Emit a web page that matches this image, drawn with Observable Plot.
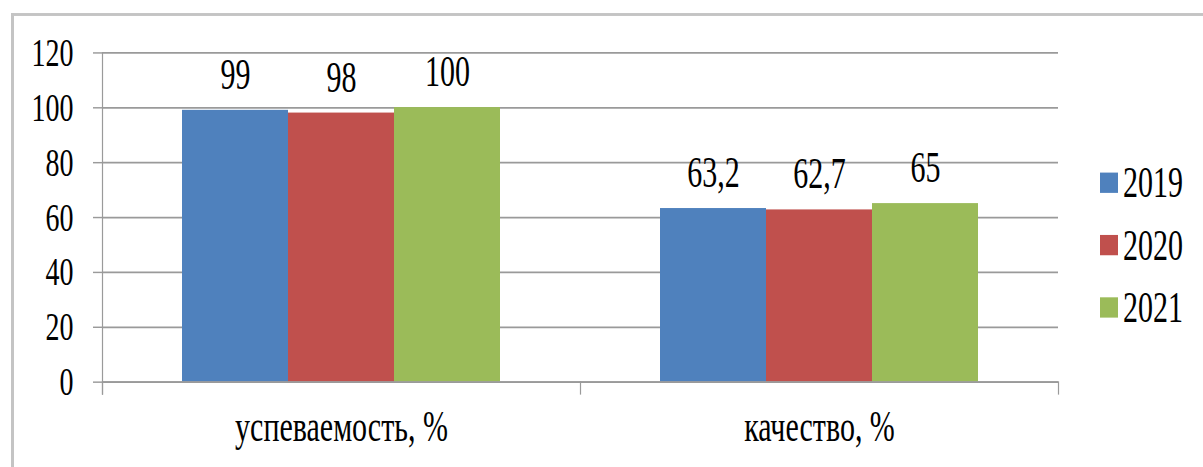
<!DOCTYPE html>
<html>
<head>
<meta charset="utf-8">
<script src="https://cdn.jsdelivr.net/npm/d3@7"></script>
<script src="https://cdn.jsdelivr.net/npm/@observablehq/plot@0.6"></script>
<style>
  html, body { margin: 0; padding: 0; background: #fff; overflow: hidden; width: 1203px; height: 467px; }
  #wrap { position: relative; width: 1203px; height: 322px; transform: scaleY(1.4503); transform-origin: 0 0; }
  #border { position: absolute; left: 11px; top: 9px; width: 1400px; height: 600px; border-left: 3px solid #c4c4c4; border-top: 2px solid #c4c4c4; pointer-events: none; z-index: 2; }
  #legend { position: absolute; left: 1100px; top: 104px; font-family: "Liberation Serif", "Times New Roman", serif; font-size: 30px; color: #000; z-index: 3; }
  .item { display: flex; align-items: center; height: 43px; }
  .sw { width: 18px; height: 14px; margin-right: 5px; }
</style>
</head>
<body>
<div id="wrap">
  <div id="chart"></div>
  <div id="legend"></div>
  <div id="border"></div>
</div>
<script>
const categories = ["успеваемость, %", "качество, %"];
const years = ["2019", "2020", "2021"];
const values2019 = [99, 63.2];
const values2020 = [98, 62.7];
const values2021 = [100, 65];
const yTicks = [0, 20, 40, 60, 80, 100, 120];
const colors = ["#4F81BD", "#C0504D", "#9BBB59"];

const series = [values2019, values2020, values2021];
const rows = [];
categories.forEach((c, i) => {
  years.forEach((y, j) => rows.push({category: c, year: y, value: series[j][i]}));
});

const fmt = d3.formatLocale({decimal: ",", thousands: " ", grouping: [3], currency: ["", ""]}).format("~g");
const grey = "#9a9a9a";
const font = "Liberation Serif, Times New Roman, serif";

const chart = Plot.plot({
  width: 1203,
  height: 322,
  marginLeft: 101,
  marginRight: 145,
  marginTop: 36,
  marginBottom: 59,
  style: {fontFamily: font, color: "#000", background: "transparent"},
  fx: {domain: categories, padding: 0, label: null},
  x: {domain: years, paddingInner: 0, paddingOuter: 0.75, axis: null},
  y: {domain: [0, 120], label: null},
  color: {domain: years, range: colors},
  marks: [
    Plot.gridY(yTicks, {stroke: grey, strokeOpacity: 1, strokeWidth: 1.2}),
    Plot.axisY(yTicks, {tickSize: 9, tickPadding: 20, stroke: grey, fill: "#000", fontSize: 28, label: null, tickFormat: d => String(d)}),
    Plot.frame({anchor: "left", facetAnchor: "left", stroke: grey, strokeWidth: 1.2, insetBottom: -8}),
    Plot.frame({anchor: "left", stroke: grey, strokeWidth: 1.2, insetTop: 227, insetBottom: -8}),
    Plot.frame({anchor: "right", facetAnchor: "right", stroke: grey, strokeWidth: 1.2, insetTop: 227, insetBottom: -8}),
    Plot.barY(rows, {fx: "category", x: "year", y: "value", fill: "year"}),
    Plot.ruleY([0], {stroke: grey, strokeWidth: 1.2}),
    Plot.text(rows, {fx: "category", x: "year", y: "value", text: d => fmt(d.value), lineAnchor: "bottom", dy: -15, fontSize: 30, fill: "#000"}),
    Plot.axisFx({anchor: "bottom", tickSize: 0, tickPadding: 19, fontSize: 30, label: null, fill: "#000"})
  ]
});
document.getElementById("chart").appendChild(chart);

const legend = document.getElementById("legend");
years.forEach((y, i) => {
  const item = document.createElement("div");
  item.className = "item";
  const sw = document.createElement("div");
  sw.className = "sw";
  sw.style.background = colors[i];
  const t = document.createElement("span");
  t.textContent = y;
  item.appendChild(sw);
  item.appendChild(t);
  legend.appendChild(item);
});
</script>
</body>
</html>
